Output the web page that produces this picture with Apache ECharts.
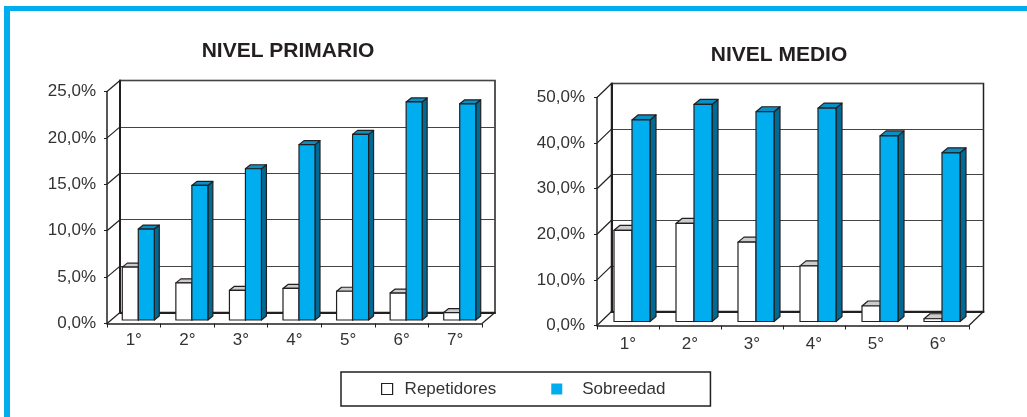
<!DOCTYPE html>
<html>
<head>
<meta charset="utf-8">
<style>html,body{margin:0;padding:0;background:#fff}#c{width:1027px;height:417px}</style>
<script src="https://cdn.jsdelivr.net/npm/echarts@6/dist/echarts.min.js"></script>
</head>
<body>
<div id="c"></div>
<script>
const primaryCategories = ['1°','2°','3°','4°','5°','6°','7°'];
const primaryRepetidores = [5.7,4.0,3.2,3.4,3.1,2.9,0.8];
const primarySobreedad = [9.8,14.5,16.3,18.9,20.0,23.5,23.3];
const primaryTicks = [0,5,10,15,20,25];
const medioCategories = ['1°','2°','3°','4°','5°','6°'];
const medioRepetidores = [20.0,21.5,17.4,12.2,3.4,0.6];
const medioSobreedad = [44.2,47.6,46.0,46.8,40.7,37.0];
const medioTicks = [0,10,20,30,40,50];
const titles = ['NIVEL PRIMARIO','NIVEL MEDIO'];
const seriesNames = ['Repetidores','Sobreedad'];

const FONT = '"Liberation Sans", Arial, sans-serif';
const INK = '#231f20', TXT = '#333';
const BLUE = '#00aeef', BLUE_TOP = '#0a8fc4', BLUE_SIDE = '#006a94';
const W = 1027, H = 417;

const panels = [
  {cats: primaryCategories, rep: primaryRepetidores, sob: primarySobreedad, ticks: primaryTicks,
   l:107, r:482, t:91.5, b:323.5, wx:13, wy:11, ox:4.5, oy:3.5, bw:16, dx:5, dy:4, step:5, xm:8, ym:11},
  {cats: medioCategories, rep: medioRepetidores, sob: medioSobreedad, ticks: medioTicks,
   l:597, r:969, t:97.5, b:325.5, wx:14.5, wy:14, ox:4, oy:4, bw:18, dx:6, dy:5, step:10, xm:10, ym:12}
];

const grids = [], xAxes = [], yAxes = [], series = [];
const axisLine = w => ({show:true, onZero:false, lineStyle:{color:INK, width:w}});

panels.forEach(p => {
  const back = grids.length, front = back + 1;
  const maxV = p.ticks[p.ticks.length - 1];
  grids.push({show:true, left:p.l+p.wx, right:W-p.r-p.wx, top:p.t-p.wy, bottom:H-p.b+p.wy,
              borderColor:INK, borderWidth:1.5, backgroundColor:'transparent', z:0});
  grids.push({left:p.l, right:W-p.r, top:p.t, bottom:H-p.b, z:1});
  xAxes.push({type:'category', gridIndex:back, data:p.cats, axisLine:axisLine(2), axisTick:{show:false}, axisLabel:{show:false}});
  xAxes.push({type:'category', gridIndex:front, data:p.cats, axisLine:axisLine(1.5),
              axisTick:{show:true, length:4, lineStyle:{color:INK, width:1}},
              axisLabel:{color:TXT, fontFamily:FONT, fontSize:17, margin:p.xm}});
  yAxes.push({type:'value', gridIndex:back, min:0, max:maxV, interval:p.step, axisLine:axisLine(2),
              axisTick:{show:false}, axisLabel:{show:false},
              splitLine:{show:true, lineStyle:{color:'#444', width:1}}});
  yAxes.push({type:'value', gridIndex:front, min:0, max:maxV, interval:p.step, axisLine:axisLine(1.5),
              axisTick:{show:true, length:3, lineStyle:{color:INK, width:1}},
              splitLine:{show:false},
              axisLabel:{color:TXT, fontFamily:FONT, fontSize:17, margin:p.ym,
                         formatter:v => v.toFixed(1).replace('.', ',') + '%'}});

  // diagonals joining the front axis to the back wall
  series.push({type:'custom', name:'wall', xAxisIndex:front, yAxisIndex:front, silent:true, z:1, clip:false,
    data:p.ticks.map(v => [0, v]),
    renderItem:(params, api) => {
      const c = params.coordSys;
      const y = api.coord([0, api.value(1)])[1];
      const st = {stroke:INK, lineWidth:1.2};
      const kids = [{type:'line', shape:{x1:c.x, y1:y, x2:c.x+p.wx, y2:y-p.wy}, style:st}];
      if (api.value(1) === 0) {
        kids.push({type:'line', shape:{x1:c.x+c.width, y1:y, x2:c.x+c.width+p.wx, y2:y-p.wy}, style:st});
      }
      return {type:'group', children:kids};
    }});

  const barSeries = (name, values, offset, face, top, side, z) => ({
    type:'custom', name, xAxisIndex:front, yAxisIndex:front, z, clip:false,
    itemStyle:{color:face, borderColor:INK},
    encode:{x:0, y:1},
    data:values.map((v, i) => [i, v]),
    renderItem:(params, api) => {
      const pt = api.coord([api.value(0), api.value(1)]);
      const base = api.coord([api.value(0), 0]);
      const x0 = pt[0] + p.ox + offset * p.bw, x1 = x0 + p.bw;
      const y0 = pt[1] - p.oy, yb = base[1] - p.oy;
      const ln = {stroke:INK, lineWidth:1.2, lineJoin:'round'};
      return {type:'group', children:[
        {type:'polygon', shape:{points:[[x1,y0],[x1+p.dx,y0-p.dy],[x1+p.dx,yb-p.dy],[x1,yb]]}, style:{fill:side, ...ln}},
        {type:'polygon', shape:{points:[[x0,y0],[x0+p.dx,y0-p.dy],[x1+p.dx,y0-p.dy],[x1,y0]]}, style:{fill:top, ...ln}},
        {type:'rect', shape:{x:x0, y:y0, width:p.bw, height:yb-y0}, style:{fill:face, ...ln}}
      ]};
    }
  });
  series.push(barSeries(seriesNames[0], p.rep, -1, '#fff', '#ccc', '#777', 3));
  series.push(barSeries(seriesNames[1], p.sob, 0, BLUE, BLUE_TOP, BLUE_SIDE, 4));
});

const chart = echarts.init(document.getElementById('c'), null, {renderer:'canvas'});
chart.setOption({
  animation:false,
  backgroundColor:'#fff',
  title:[
    {text:titles[0], left:283, top:36, textAlign:'center', textStyle:{color:INK, fontFamily:FONT, fontWeight:'bold', fontSize:21}},
    {text:titles[1], left:774, top:40, textAlign:'center', textStyle:{color:INK, fontFamily:FONT, fontWeight:'bold', fontSize:21}}
  ],
  grid:grids, xAxis:xAxes, yAxis:yAxes, series,
  legend:{
    left:341, top:372, padding:[8.5,45,8.5,40], itemGap:55, itemWidth:11, itemHeight:11, icon:'rect',
    borderColor:INK, borderWidth:1.5, backgroundColor:'#fff', selectedMode:false,
    textStyle:{color:TXT, fontFamily:FONT, fontSize:17, padding:[0,0,0,7]},
    data:[
      {name:seriesNames[0], itemStyle:{color:'#fff', borderColor:INK, borderWidth:1.2}},
      {name:seriesNames[1], itemStyle:{color:BLUE, borderWidth:0},
       textStyle:{color:TXT, fontFamily:FONT, fontSize:17, padding:[0,0,0,15]}}
    ]
  },
  graphic:[
    {type:'rect', shape:{x:4, y:6, width:W-4, height:5}, style:{fill:BLUE}, silent:true},
    {type:'rect', shape:{x:4, y:6, width:6, height:H-6}, style:{fill:BLUE}, silent:true}
  ]
});
</script>
</body>
</html>
